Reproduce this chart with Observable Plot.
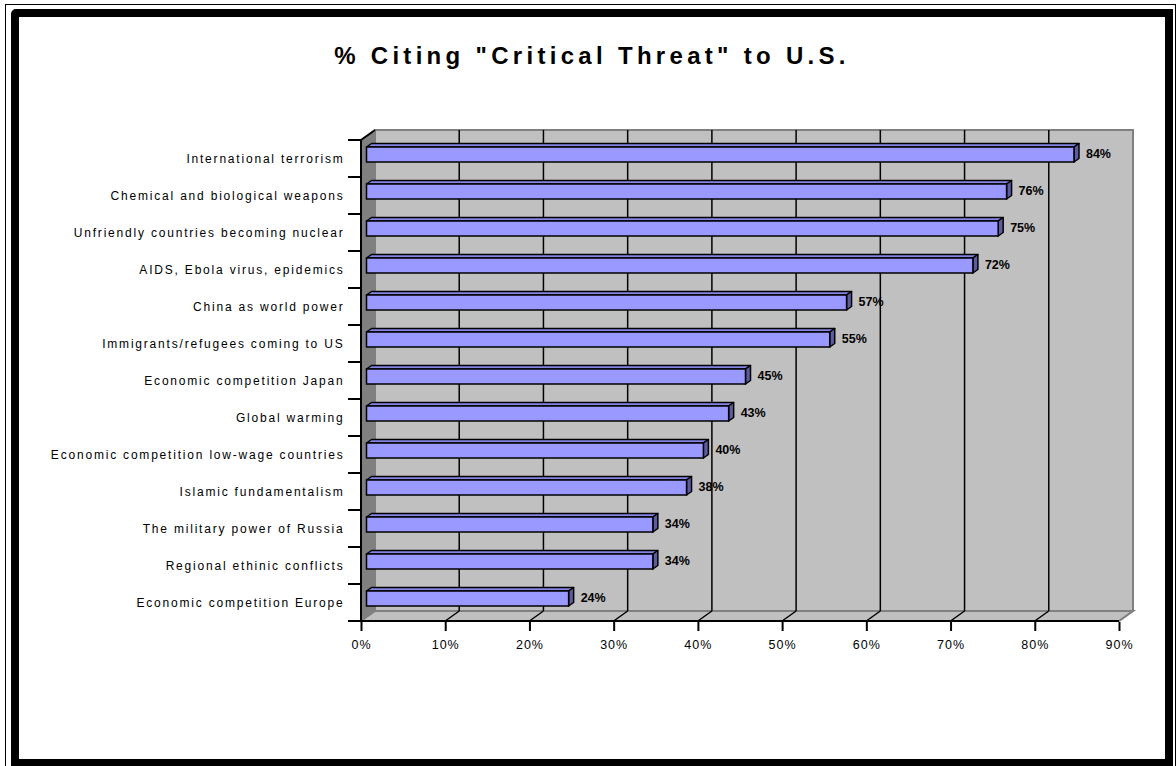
<!DOCTYPE html>
<html>
<head>
<meta charset="utf-8">
<script src="https://cdn.jsdelivr.net/npm/d3@7"></script>
<script src="https://cdn.jsdelivr.net/npm/@observablehq/plot@0.6"></script>
<style>
  body { margin: 0; background: #fff; }
  #wrap { position: relative; width: 1176px; height: 766px; overflow: hidden;
          font-family: "Liberation Sans", Arial, sans-serif; }
  #chart svg { position: absolute; left: 0; top: 0; }
  .edge-thin { position: absolute; left: 5px; top: 4px; width: 1171px; height: 780px;
               border: 1px solid #000; box-sizing: border-box; }
  .edge-thick { position: absolute; left: 11px; top: 9px; width: 1162px; height: 758px;
                border: 8px solid #000; border-radius: 5px 0 0 0; box-sizing: border-box; }
  .title { position: absolute; left: 4px; top: 44px; width: 1176px; text-align: center;
           font-size: 24px; line-height: 24px; font-weight: bold; letter-spacing: 4.3px; color: #000; }
  g[aria-label="y-axis tick label"] text { letter-spacing: 1.8px; }
  g[aria-label="x-axis tick label"] text { letter-spacing: 1px; }
  g[aria-label="value label"] text { letter-spacing: 1px; }
</style>
</head>
<body>
<div id="wrap">
  <div id="chart"></div>
  <div class="title">% Citing "Critical Threat" to U.S.</div>
  <div class="edge-thin"></div>
  <div class="edge-thick"></div>
</div>
<script>
// Threats, listed top to bottom, with the share calling each a critical threat (%)
const categories = [
  "International terrorism",
  "Chemical and biological weapons",
  "Unfriendly countries becoming nuclear",
  "AIDS, Ebola virus, epidemics",
  "China as world power",
  "Immigrants/refugees coming to US",
  "Economic competition Japan",
  "Global warming",
  "Economic competition low-wage countries",
  "Islamic fundamentalism",
  "The military power of Russia",
  "Regional ethinic conflicts",
  "Economic competition Europe"
];
const values = [84, 76, 75, 72, 57, 55, 45, 43, 40, 38, 34, 34, 24];
const xTicks = [0, 10, 20, 30, 40, 50, 60, 70, 80, 90];

const rows = categories.map((name, i) => ({name, value: values[i]}));

// 3D look: depth of the chart box, and of the bars inside it
const DEPTH_X = 14, DEPTH_Y = -10;
const BAR_DX = 5.5, BAR_DY = -4;   // bar front face pushed into the box
const CAP_X = 5, CAP_Y = -3.5;     // bar thickness
const BAR_INSET = 11;

// Back wall, floor, left wall, gridlines and band-boundary ticks
function box(index, scales) {
  const x = scales.x, y = scales.y;
  const bw = y.bandwidth();
  const top = y(categories[0]);
  const bottom = y(categories[categories.length - 1]) + bw;
  const x0 = x(xTicks[0]), x1 = x(xTicks[xTicks.length - 1]);
  const g = d3.create("svg:g");
  // back wall
  g.append("rect")
    .attr("x", x0 + DEPTH_X).attr("y", top + DEPTH_Y)
    .attr("width", x1 - x0).attr("height", bottom - top)
    .attr("fill", "#c0c0c0").attr("stroke", "#808080").attr("stroke-width", 2);
  // floor
  g.append("path")
    .attr("d", `M${x0},${bottom}L${x0 + DEPTH_X},${bottom + DEPTH_Y}L${x1 + DEPTH_X},${bottom + DEPTH_Y}L${x1},${bottom}Z`)
    .attr("fill", "#c0c0c0").attr("stroke", "#808080").attr("stroke-width", 2);
  // left wall
  g.append("path")
    .attr("d", `M${x0},${top}L${x0 + DEPTH_X},${top + DEPTH_Y}L${x0 + DEPTH_X},${bottom + DEPTH_Y}L${x0},${bottom}Z`)
    .attr("fill", "#808080");
  // gridlines on the back wall
  for (const t of xTicks.slice(1, -1)) {
    g.append("line")
      .attr("x1", x(t) + DEPTH_X).attr("x2", x(t) + DEPTH_X)
      .attr("y1", top + DEPTH_Y).attr("y2", bottom + DEPTH_Y)
      .attr("stroke", "#000").attr("stroke-width", 1.5);
  }
  // gridlines across the floor
  for (const t of xTicks.slice(1)) {
    g.append("line")
      .attr("x1", x(t)).attr("y1", bottom)
      .attr("x2", x(t) + DEPTH_X).attr("y2", bottom + DEPTH_Y)
      .attr("stroke", t === xTicks[xTicks.length - 1] ? "#808080" : "#000").attr("stroke-width", 1.5);
  }
  // axis edges
  g.append("path")
    .attr("d", `M${x0 + DEPTH_X},${top + DEPTH_Y}L${x0},${top}L${x0},${bottom}L${x1},${bottom}`)
    .attr("fill", "none").attr("stroke", "#000").attr("stroke-width", 2);
  // ticks on the category boundaries
  const bounds = [top, ...categories.map(c => y(c) + bw)];
  for (const b of bounds) {
    g.append("line")
      .attr("x1", x0 - 13).attr("x2", x0)
      .attr("y1", b).attr("y2", b)
      .attr("stroke", "#000").attr("stroke-width", 2);
  }
  return g.node();
}

// Top and end faces of each bar
function barCaps(index, scales) {
  const x = scales.x, y = scales.y;
  const bw = y.bandwidth();
  const g = d3.create("svg:g");
  for (const d of rows) {
    const xs = x(0) + BAR_DX, xe = x(d.value) + BAR_DX;
    const yt = y(d.name) + BAR_INSET + BAR_DY;
    const yb = y(d.name) + bw - BAR_INSET + BAR_DY;
    g.append("path")
      .attr("d", `M${xs},${yt}L${xs + CAP_X},${yt + CAP_Y}L${xe + CAP_X},${yt + CAP_Y}L${xe},${yt}Z`)
      .attr("fill", "#8585e6").attr("stroke", "#000").attr("stroke-width", 1.5).attr("stroke-linejoin", "round");
    g.append("path")
      .attr("d", `M${xe},${yt}L${xe + CAP_X},${yt + CAP_Y}L${xe + CAP_X},${yb + CAP_Y}L${xe},${yb}Z`)
      .attr("fill", "#5c5c9e").attr("stroke", "#000").attr("stroke-width", 1.5).attr("stroke-linejoin", "round");
  }
  return g.node();
}

const chart = Plot.plot({
  width: 1176,
  height: 766,
  marginLeft: 361,
  marginRight: 57,
  marginTop: 138.5,
  marginBottom: 144,
  style: {background: "transparent", fontFamily: "'Liberation Sans', Arial, sans-serif", color: "#000"},
  x: {domain: [0, 90]},
  y: {type: "band", domain: categories, padding: 0},
  marks: [
    box,
    barCaps,
    Plot.barX(rows, {
      x1: () => 0, x2: "value", y: "name",
      insetTop: BAR_INSET, insetBottom: BAR_INSET,
      dx: BAR_DX, dy: BAR_DY,
      fill: "#9999ff", stroke: "#000", strokeWidth: 1.5
    }),
    Plot.text(rows, {
      x: "value", y: "name", text: d => d.value + "%",
      dx: 17, dy: -5, textAnchor: "start",
      fontWeight: "bold", fontSize: 12.5, fill: "#000",
      ariaLabel: "value label"
    }),
    Plot.axisX(xTicks, {
      tickSize: 9, tickPadding: 9, tickFormat: d => d + "%",
      fontSize: 12.5, stroke: "#000", strokeWidth: 2, label: null
    }),
    Plot.axisY({tickSize: 0, tickPadding: 17, fontSize: 12, label: null})
  ]
});
document.getElementById("chart").appendChild(chart);
</script>
</body>
</html>
